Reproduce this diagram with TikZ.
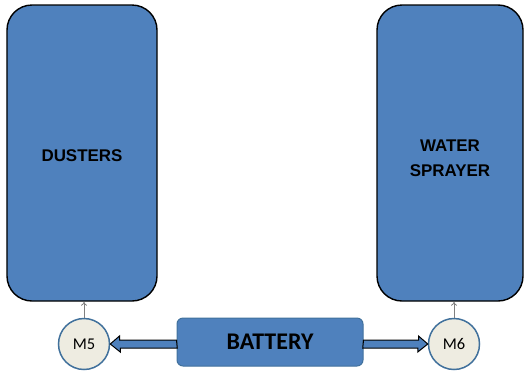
\documentclass[tikz,border=0pt]{standalone}
\usepackage{fontspec}
\setmainfont{Carlito}
\newfontfamily\headfont{Liberation Sans}
\usetikzlibrary{arrows.meta}
\definecolor{boxblue}{HTML}{4F81BD}
\definecolor{edgeblue}{HTML}{41719C}
\definecolor{motorfill}{HTML}{EEECE1}
\tikzset{
  unit/.style={draw=black, line width=1.4bp, fill=boxblue, rounded corners=25bp, inner sep=0pt},
  unitlabel/.style={font=\headfont\bfseries\fontsize{17}{25}\selectfont, align=center, inner sep=0pt},
  motor/.style={circle, draw=edgeblue, line width=1.5bp, fill=motorfill,
    minimum size=51bp, inner sep=0pt, font=\fontsize{16.5}{18}\selectfont},
  power/.style={draw=edgeblue, line width=1bp, fill=boxblue, rounded corners=6bp,
    font=\bfseries\fontsize{24}{28}\selectfont, inner sep=0pt},
  feed/.style={draw=black, line width=1bp, fill=boxblue},
  drive/.style={draw=gray, line width=0.8bp, -{To[length=4bp,width=6bp]}}
}
\begin{document}
\begin{tikzpicture}[x=1bp,y=-1bp]
\useasboundingbox (0,0) rectangle (525,374);
% working units
\node[unit, minimum width=150bp, minimum height=296bp] (dust) at (82,153) {};
\node[unitlabel] (dusttext) at ([yshift=-3bp]dust.center) {DUSTERS};
\node[unit, minimum width=146bp, minimum height=296bp] (spray) at (450,153) {};
\node[unitlabel] (spraytext) at ([yshift=-5bp]spray.center) {WATER\\SPRAYER};
% motors and battery
\node[motor] (m5) at (84,344) {M5};
\node[motor] (m6) at (454,344) {M6};
\node[power, minimum width=186bp, minimum height=48bp] (bat) at (270,342) {BATTERY};
% supply arrows from the battery to the motors
\path (bat.west) ++(0,2) coordinate (bl);
\path (bat.east) ++(0,2) coordinate (br);
\draw[feed] (bl) ++(0,-4) -- ++(-57,0) -- ++(0,-4) -- (m5.east |- bl) -- ++(10,8) -- ++(0,-4) -- ++(57,0) -- cycle;
\draw[feed] (br) ++(0,-4) -- ++(55,0) -- ++(0,-4) -- (m6.west |- br) -- ++(-10,8) -- ++(0,-4) -- ++(-55,0) -- cycle;
% motor drives
\draw[drive] (m5.north) -- (m5.north |- dust.south);
\draw[drive] (m6.north) -- (m6.north |- spray.south);
\end{tikzpicture}
\end{document}
